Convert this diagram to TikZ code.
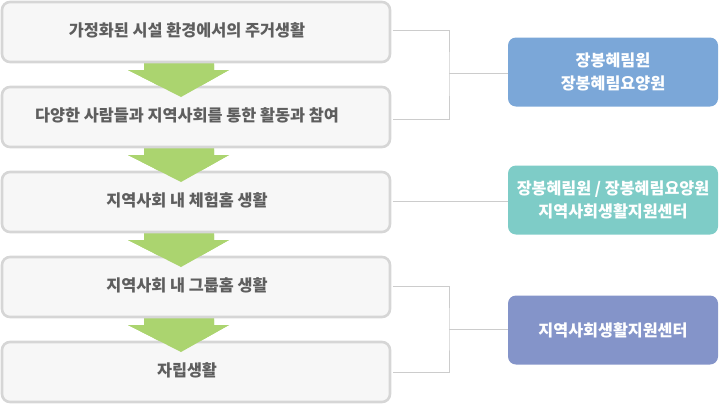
\documentclass[tikz,border=0pt]{standalone}
\usepackage{fontspec}
\setmainfont{Noto Sans CJK KR}
\usetikzlibrary{calc}
\definecolor{boxfill}{HTML}{F7F7F7}
\definecolor{boxline}{HTML}{D6D6D6}
\definecolor{txtgray}{HTML}{5E5E5E}
\definecolor{arrgreen}{HTML}{ABD46F}
\definecolor{conn}{HTML}{CCCCCC}
\definecolor{cblue}{HTML}{7BA7D8}
\definecolor{cteal}{HTML}{7ECCC7}
\definecolor{cpurple}{HTML}{8494C9}
\tikzset{
  stage/.style={draw=boxline, line width=2.6pt, fill=boxfill, rounded corners=8pt,
    minimum width=388pt, minimum height=60pt, inner sep=0pt},
  stagetxt/.style={text=txtgray, font=\bfseries\fontsize{16.3}{19}\selectfont, anchor=center},
  org/.style={rounded corners=8pt, minimum width=210pt, minimum height=69pt,
    inner sep=0pt, text=white, align=center, font=\bfseries\fontsize{16.2}{23}\selectfont},
  link/.style={draw=conn, line width=0.9pt},
  arr/.style={fill=arrgreen, draw=none}
}
\begin{document}
\begin{tikzpicture}[x=1pt,y=-1pt]
\useasboundingbox (0,0) rectangle (720,405);
% arrows (behind boxes)
\foreach \yb in {63,148,233,318}{
  \fill[arrgreen] (144,\yb) rectangle (214,\yb+7)
    (128,\yb+7) -- (229,\yb+7) -- (181,\yb+34) -- cycle;
}
% stage boxes
\node[stage] (s1) at (196,32) {};
\node[stage] (s2) at (196,117) {};
\node[stage] (s3) at (196,202) {};
\node[stage] (s4) at (196,287) {};
\node[stage] (s5) at (196,372) {};
% arrow tips drawn over boxes
\foreach \yb in {63,148,233,318}{
  \fill[arrgreen] (144,\yb+1.5) rectangle (214,\yb+7)
    (128,\yb+7) -- (229,\yb+7) -- (181,\yb+34) -- cycle;
}
\node[stagetxt] (t1) at (187,30) {가정화된 시설 환경에서의 주거생활};
\node[stagetxt] (t2) at (187,115) {다양한 사람들과 지역사회를 통한 활동과 참여};
\node[stagetxt] (t3) at (187,200) {지역사회 내 체험홈 생활};
\node[stagetxt] (t4) at (187,285) {지역사회 내 그룹홈 생활};
\node[stagetxt] (t5) at (187,370) {자립생활};
% org boxes
\node[org, fill=cblue] (o1) at (613,72) {장봉혜림원\\장봉혜림요양원};
\node[org, fill=cteal] (o2) at (613,200) {장봉혜림원 / 장봉혜림요양원\\지역사회생활지원센터};
\node[org, fill=cpurple] (o3) at (613,330) {지역사회생활지원센터};
% connectors
\coordinate (j1) at (449,73);
\coordinate (j3) at (449,329);
\draw[link] ($(s1.east)+(1.3,-2)$) -| (j1) |- ($(s2.east)+(1.3,2)$);
\draw[link] (j1) -- (o1.west |- j1);
\draw[link] ($(s3.east)+(1.3,-1)$) -- (o2.west |- 0,201);
\draw[link] ($(s4.east)+(1.3,-1)$) -| (j3) |- ($(s5.east)+(1.3,0)$);
\draw[link] (j3) -- (o3.west |- j3);
\end{tikzpicture}
\end{document}
